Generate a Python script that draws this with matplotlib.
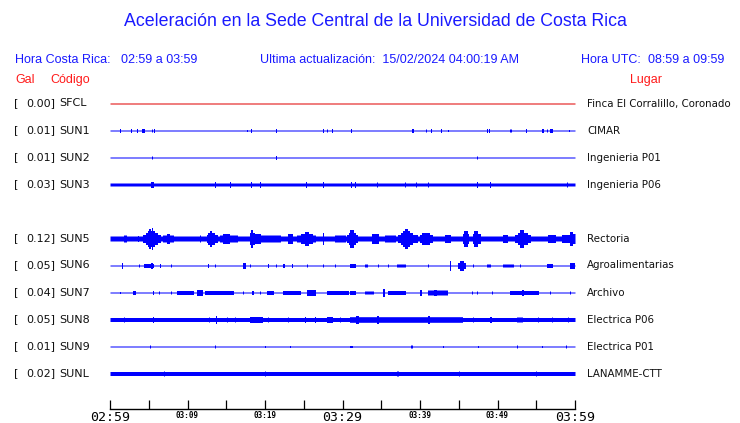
import numpy as np
import matplotlib
matplotlib.use("Agg")
import matplotlib.pyplot as plt

# Station rows (top to bottom), a blank row sits between SUN3 and SUN5
codes = ["SFCL", "SUN1", "SUN2", "SUN3", "SUN5", "SUN6", "SUN7", "SUN8", "SUN9", "SUNL"]
gal = [0.00, 0.01, 0.01, 0.03, 0.12, 0.05, 0.04, 0.05, 0.01, 0.02]
places = ["Finca El Corralillo, Coronado", "CIMAR", "Ingenieria P01", "Ingenieria P06",
          "Rectoria", "Agroalimentarias", "Archivo", "Electrica P06", "Electrica P01",
          "LANAMME-CTT"]
rows = [0, 1, 2, 3, 5, 6, 7, 8, 9, 10]

# background half-amplitude of each trace (screen px)
base_amp = [0.5, 0.5, 0.5, 1.5, 2.5, 0.5, 0.5, 2.0, 0.5, 2.0]

# bursts: (start min, end min, half-amplitude px)
sfcl_events = []
sun1_events = [(1.3, 1.3, 2), (2.7, 2.7, 2), (3.5, 3.5, 2), (4.2, 4.4, 2), (5.4, 5.4, 1.5),
               (5.7, 5.7, 2), (17.7, 17.7, 1), (18.2, 18.2, 2), (21.4, 21.4, 2), (27.5, 27.5, 2),
               (28.0, 28.0, 1.5), (28.6, 28.6, 2), (31.1, 31.1, 2), (39.0, 39.1, 2),
               (40.8, 40.8, 1.5), (41.4, 41.4, 2), (42.7, 42.7, 2), (43.6, 43.6, 1),
               (48.6, 48.6, 2), (48.9, 48.9, 2), (51.6, 51.7, 1.5), (53.7, 53.7, 2),
               (55.7, 55.8, 2), (56.4, 56.4, 1.5), (56.8, 57.0, 2), (59.2, 59.2, 1)]
sun2_events = [(5.4, 5.4, 1.5), (21.4, 21.4, 2), (47.4, 47.4, 1.5)]
sun3_events = [(5.3, 5.6, 3), (13.5, 13.5, 3), (15.5, 15.5, 3), (18.2, 18.2, 3), (19.4, 19.4, 3),
               (25.3, 25.3, 3), (27.5, 27.5, 3), (31.1, 31.1, 3), (31.6, 31.6, 3), (34.4, 34.4, 2.5),
               (38.1, 38.1, 2.5), (39.5, 39.5, 2.5), (41.0, 41.0, 2.5), (47.4, 47.4, 3),
               (49.0, 49.0, 3), (59.0, 59.0, 2.5)]
sun5_events = [(1.8, 2.1, 3.5), (3.6, 3.6, 3), (4.3, 6.5, 4), (4.6, 6.0, 6), (4.9, 5.7, 8),
               (5.1, 5.2, 10), (5.4, 5.4, 11), (6.8, 8.1, 3.5), (7.3, 7.6, 5), (11.6, 11.6, 3.5),
               (12.5, 13.8, 4), (12.7, 13.4, 6), (12.9, 13.0, 8), (14.2, 16.4, 3.5), (14.6, 15.3, 5),
               (18.1, 21.9, 3.5), (18.1, 18.6, 6), (18.2, 18.3, 9), (18.7, 19.4, 5), (23.0, 23.5, 5),
               (24.1, 26.5, 3.5), (24.6, 26.0, 5), (25.2, 25.6, 7), (27.5, 27.5, 6), (29.0, 30.3, 3.5),
               (30.6, 31.9, 4), (30.8, 31.6, 6), (31.0, 31.3, 9), (33.8, 34.6, 5), (35.5, 36.8, 3.5),
               (37.2, 39.6, 4), (37.5, 39.0, 6), (37.8, 38.6, 8), (38.1, 38.3, 10), (40.0, 41.5, 4),
               (40.3, 41.1, 6), (43.2, 43.9, 4), (45.5, 46.2, 5), (45.7, 46.0, 8), (46.8, 47.7, 5),
               (47.0, 47.4, 8), (50.7, 51.2, 4), (52.3, 54.2, 4), (52.6, 53.8, 6), (52.9, 53.3, 9),
               (56.5, 57.4, 4), (58.3, 59.7, 4), (59.3, 59.6, 7), (59.8, 60.0, 5)]
sun6_events = [(1.5, 1.5, 3), (3.7, 3.7, 1.5), (4.4, 5.5, 2), (5.3, 5.4, 3), (6.5, 6.5, 2),
               (7.9, 7.9, 1.5), (12.6, 12.6, 2), (13.5, 13.5, 1.5), (17.2, 17.4, 3), (18.1, 18.1, 1.5),
               (20.4, 20.4, 2), (21.4, 21.4, 1.5), (22.3, 22.5, 2), (23.5, 23.5, 2), (25.4, 25.4, 1.5),
               (27.5, 27.5, 1.5), (29.0, 29.0, 1.5), (31.0, 31.6, 2), (32.9, 33.1, 1.5),
               (34.6, 34.6, 1.5), (35.9, 35.9, 1.5), (37.0, 38.1, 1.5), (41.0, 41.0, 1.5),
               (43.9, 43.9, 5), (44.9, 45.8, 3), (45.2, 45.5, 5), (46.8, 46.8, 1.5), (48.6, 49.0, 1.5),
               (50.7, 52.0, 1.5), (52.9, 52.9, 1.5), (56.4, 57.0, 2), (59.4, 59.8, 3)]
sun7_events = [(1.3, 1.3, 1), (3.0, 3.2, 2), (5.5, 5.5, 2), (6.3, 6.3, 1.5), (7.9, 7.9, 1.5),
               (8.6, 10.7, 2), (11.2, 11.9, 3), (12.3, 15.9, 2), (17.2, 17.2, 1.5), (18.3, 18.5, 2),
               (19.4, 19.4, 1.5), (20.3, 21.0, 2), (22.3, 24.5, 2), (25.4, 26.5, 3), (28.0, 30.7, 2),
               (31.0, 31.6, 2), (32.9, 33.9, 1.5), (35.2, 35.3, 4), (35.9, 38.1, 2), (40.0, 40.1, 3),
               (41.0, 43.5, 2.5), (41.8, 42.0, 3), (46.7, 46.7, 1.5), (47.4, 47.4, 1.5),
               (49.3, 49.3, 1.5), (51.6, 55.2, 2), (53.2, 53.3, 3), (56.8, 56.8, 1.5),
               (59.4, 59.4, 1.5)]
sun8_events = [(1.8, 1.8, 2.5), (5.5, 5.6, 3), (12.8, 12.8, 2.5), (13.7, 13.7, 4), (15.1, 15.1, 2.5),
               (16.1, 16.1, 2.5), (18.1, 19.6, 3), (20.4, 20.4, 2.5), (23.0, 23.0, 2.5),
               (25.2, 25.2, 3), (26.5, 26.5, 3), (28.0, 28.6, 3), (29.7, 29.7, 2.5), (31.0, 45.4, 2.8),
               (31.8, 32.0, 4), (34.4, 34.6, 4), (41.0, 41.2, 4), (46.8, 46.8, 2.5), (49.0, 49.1, 3),
               (52.5, 53.2, 2.5), (55.2, 55.2, 2.5), (57.0, 57.0, 2.5), (59.1, 59.1, 2.5)]
sun9_events = [(5.2, 5.2, 1.5), (13.5, 13.5, 1.5), (20.0, 20.0, 1), (23.2, 23.2, 1), (31.0, 31.2, 1),
               (38.9, 38.9, 1.5), (43.0, 43.0, 1), (47.5, 47.5, 1), (52.5, 52.5, 1.5),
               (55.7, 55.7, 1), (58.8, 58.8, 1.5)]
sunl_events = [(7.0, 7.0, 2.5), (20.0, 20.0, 2.5), (37.0, 37.2, 2.5), (45.0, 45.0, 2.5),
               (55.0, 55.0, 2.5)]
events = [sfcl_events, sun1_events, sun2_events, sun3_events, sun5_events,
          sun6_events, sun7_events, sun8_events, sun9_events, sunl_events]
trace_colors = ["#e00000"] + ["#0000ff"] * 9

tick_minutes = [0, 10, 20, 30, 40, 50, 60]
tick_labels = ["02:59", "03:09", "03:19", "03:29", "03:39", "03:49", "03:59"]
big_ticks = ["02:59", "03:29", "03:59"]

W, H = 740, 423
fig = plt.figure(figsize=(W / 100, H / 100), dpi=100, facecolor="white")

def fx(px):
    return px / W

def fy(py):
    return 1 - py / H

blue = "#1a1aff"
red = "#ff1a1a"
sans = "Liberation Sans"

fig.text(fx(375), fy(22), "Aceleración en la Sede Central de la Universidad de Costa Rica",
         ha="center", va="center", color=blue, fontsize=12.8, family=sans)
fig.text(fx(15), fy(60), "Hora Costa Rica:", ha="left", va="center", color=blue, fontsize=9, family=sans)
fig.text(fx(121), fy(60), "02:59 a 03:59", ha="left", va="center", color=blue, fontsize=9, family=sans)
fig.text(fx(260), fy(60), "Ultima actualización:  15/02/2024 04:00:19 AM", ha="left", va="center",
         color=blue, fontsize=9, family=sans)
fig.text(fx(581), fy(60), "Hora UTC:", ha="left", va="center", color=blue, fontsize=9, family=sans)
fig.text(fx(724), fy(60), "08:59 a 09:59", ha="right", va="center", color=blue, fontsize=9, family=sans)
fig.text(fx(15), fy(80), "Gal", ha="left", va="center", color=red, fontsize=9, family=sans)
fig.text(fx(50), fy(80), "Código", ha="left", va="center", color=red, fontsize=9, family=sans)
fig.text(fx(646), fy(80), "Lugar", ha="center", va="center", color=red, fontsize=9, family=sans)

# axes laid out in screen pixels: x = minutes, y = px from top
ax = fig.add_axes([fx(110), fy(409), fx(575) - fx(110), (409 - 90) / H])
ax.set_xlim(0, 60)
ax.set_ylim(409, 90)
for side in ["top", "left", "right"]:
    ax.spines[side].set_visible(False)
ax.spines["bottom"].set_linewidth(1.0)
ax.set_yticks([])

t = np.linspace(0, 60, 466)
half_px = 60 / 465 * 0.55
for i, code in enumerate(codes):
    y0 = 103.5 + 27 * rows[i]
    env = np.full_like(t, base_amp[i])
    for (t0, t1, h) in events[i]:
        sel = (t >= t0 - half_px) & (t <= t1 + half_px)
        env[sel] = np.maximum(env[sel], h)
    ax.fill_between(t, y0 - env, y0 + env, step="mid", color=trace_colors[i],
                    linewidth=0, antialiased=False)
    fig.text(fx(14), fy(y0), "[", ha="left", va="center", fontsize=8, color="#111111")
    fig.text(fx(55), fy(y0), "%.2f]" % gal[i], ha="right", va="center", fontsize=8, color="#111111")
    fig.text(fx(59), fy(y0), code, ha="left", va="center", fontsize=8, color="#111111")
    fig.text(fx(587), fy(y0), places[i], ha="left", va="center", fontsize=7.4, color="#111111")

ax.set_xticks(tick_minutes)
ax.set_xticks(np.arange(5, 60, 10), minor=True)
ax.set_xticklabels(tick_labels)
ax.tick_params(axis="x", which="both", direction="in", length=6.5, width=0.9, pad=1.5)
for lab in ax.get_xticklabels():
    lab.set_fontfamily("DejaVu Sans Mono")
    if lab.get_text() in big_ticks:
        lab.set_fontsize(9.5)
    else:
        lab.set_fontsize(5.5)
        lab.set_fontweight("bold")

fig.savefig("out.png", dpi=100, facecolor="white")
